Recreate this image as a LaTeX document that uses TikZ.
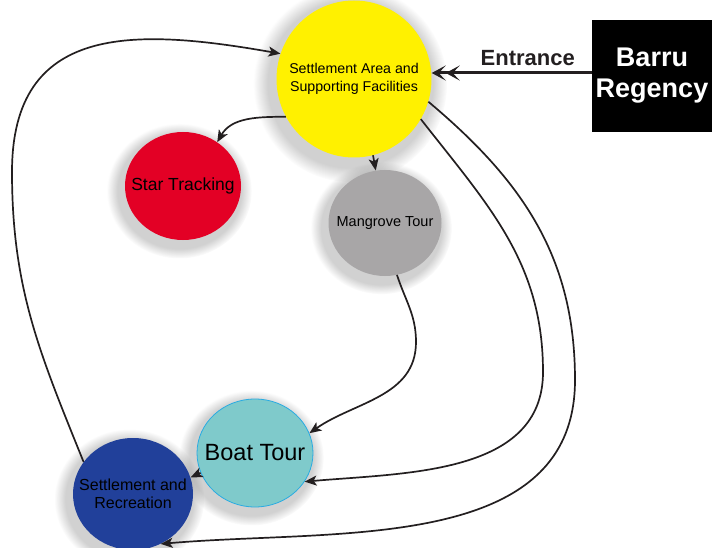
\documentclass[tikz,border=0pt]{standalone}
\usepackage{fontspec}
\setmainfont{Liberation Sans}
\usepackage{tikz}
\usetikzlibrary{arrows.meta,shapes.geometric,shadows,fadings}
\definecolor{sun}{HTML}{FFF100}
\definecolor{ruby}{HTML}{E30025}
\definecolor{ash}{HTML}{A8A6A7}
\definecolor{lagoon}{HTML}{7FCACB}
\definecolor{lagoonrim}{HTML}{29ABE2}
\definecolor{deep}{HTML}{21409A}
\definecolor{ink}{HTML}{231F20}

\begin{document}
\begin{tikzpicture}[x=1pt, y=-1pt, font=\fontsize{14}{17}\selectfont,
   spot/.style={ellipse,inner sep=0pt,
     circular drop shadow={shadow xshift=-3pt,shadow yshift=-4pt,shadow scale=1.25,opacity=.3,fill=black!60}},
   txt/.style={align=center,text=black,font=\fontsize{#1}{17.5}\selectfont},
   gate/.style={fill=black,text=white,minimum width=120pt,minimum height=112pt,align=center,
     font=\fontsize{27}{31}\selectfont\bfseries},
   fl/.style={-{Stealth[length=12pt,width=10pt,inset=3pt]},draw=ink,line width=1.7pt},
   entry/.style={-{Stealth[length=14pt,width=15pt,inset=7pt]Stealth[length=14pt,width=15pt,inset=7pt]},draw=ink,line width=3pt}]
  \useasboundingbox (0,0) rectangle (717,548);
  \node[spot,fill=sun,minimum width=155pt,minimum height=157pt,
    label={[txt=14.2]center:Settlement Area and\\Supporting Facilities}] (hub) at (354,79) {};
  \node[spot,fill=ruby,minimum width=116pt,minimum height=108pt,
    label={[txt=17.5]center:Star Tracking}] (star) at (183,186) {};
  \node[spot,fill=ash,minimum width=113pt,minimum height=106pt,
    label={[txt=14.5]center:Mangrove Tour}] (mang) at (385,223) {};
  \node[spot,fill=lagoon,draw=lagoonrim,line width=.8pt,minimum width=116pt,minimum height=108pt,
    label={[txt=23.5]center:Boat Tour}] (boat) at (255,453) {};
  \node[spot,fill=deep,minimum width=120pt,minimum height=112pt,
    label={[txt=16]center:Settlement and\\Recreation}] (stay) at (133,494) {};
  \node[gate] (barru) at (652,76) {Barru\\Regency};
  % way in from the regency
  \draw[entry] ([yshift=3pt]barru.west) -- ([yshift=3pt]barru.west -| hub.east)
    node[pos=.4,anchor=south,yshift=2pt,font=\fontsize{22}{26}\selectfont\bfseries,text=ink] (gate) {Entrance};
  % routes out of the settlement area
  \draw[fl] (hub.209) to[out=180,in=60] (star.52);
  \draw[fl] (hub.-76) -- (mang.100);
  \draw[fl] (mang.-77) to[out=-72,in=90] (416,342) to[out=-90,in=35] (boat.20);
  \draw[fl] (hub.-31) to[out=-52,in=90] (543,372) to[out=-90,in=5] (boat.-30);
  \draw[fl] (hub.-17) to[out=-40,in=90] (575,380) to[out=-90,in=5] (stay.-61);
  \draw[fl] (boat.200) -- (stay.16);
  % back to the start
  \draw[fl] (stay.147) to[out=112,in=-90] (12,172) to[out=90,in=170,looseness=1.3] (hub.161);
\end{tikzpicture}
\end{document}
